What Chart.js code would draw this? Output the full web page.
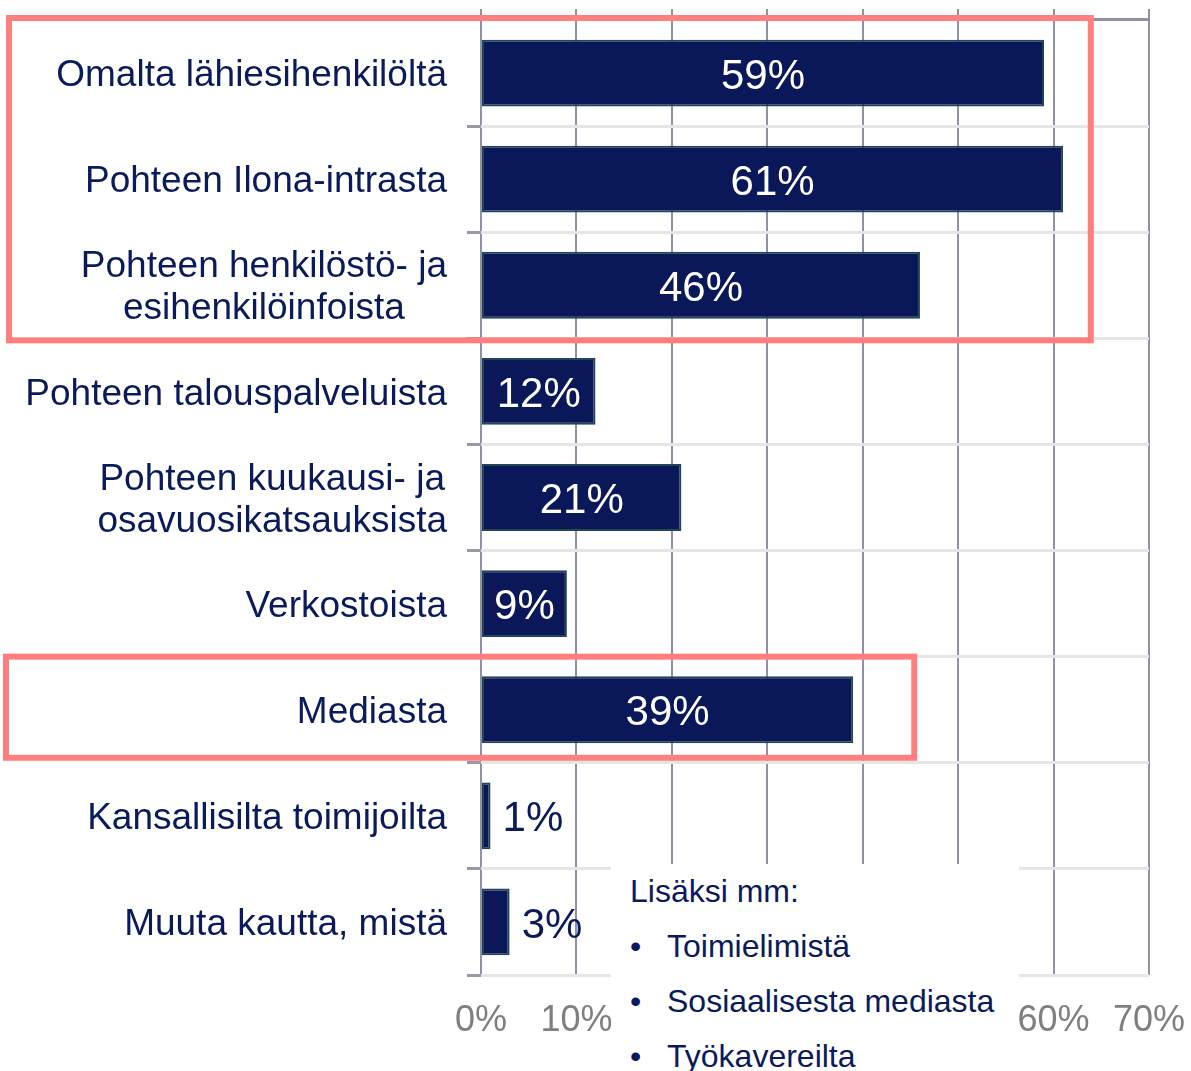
<!DOCTYPE html>
<html>
<head>
<meta charset="utf-8">
<script src="https://cdn.jsdelivr.net/npm/chart.js@4"></script>
<style>
    body { margin: 0; background: #fff; }
    #wrap { position: relative; width: 1191px; height: 1071px; }
    #note {
        position: absolute; left: 611px; top: 864px; width: 408px; height: 207px;
        background: #fff; color: #0b1a5a;
        font-family: "Liberation Sans", Arial, sans-serif; font-size: 32px; line-height: 55px;
    }
    #note div { position: relative; padding-left: 19px; white-space: nowrap; }
    #note div.item { padding-left: 56px; }
    #note .dot { position: absolute; left: 19px; }
</style>
</head>
<body>
<div id="wrap">
    <canvas id="chart"></canvas>
    <div id="note"></div>
</div>
<script>
// chart data
const categories = [
    ["Omalta lähiesihenkilöltä"],
    ["Pohteen Ilona-intrasta"],
    ["Pohteen henkilöstö- ja", "esihenkilöinfoista"],
    ["Pohteen talouspalveluista"],
    ["Pohteen kuukausi- ja", "osavuosikatsauksista"],
    ["Verkostoista"],
    ["Mediasta"],
    ["Kansallisilta toimijoilta"],
    ["Muuta kautta, mistä"]
];
const values = [59, 61, 46, 12, 21, 9, 39, 1, 3];
const tickValues = [0, 10, 20, 30, 40, 50, 60, 70];
const noteTitle = "Lisäksi mm:";
const noteItems = ["Toimielimistä", "Sosiaalisesta mediasta", "Työkavereilta"];

const navy = "#0b1a5a";
const gridPurple = "#9090a6";
const FONT = '"Liberation Sans", Arial, sans-serif';

// red highlight boxes (category ranges)
const highlights = [
    { from: 0, to: 2, left: 9, right: 63.9, padTop: -2, padBottom: 2 },
    { from: 6, to: 6, left: 6, right: 45.4, padTop: 0, padBottom: -5 }
];

// the "Lisäksi mm" box
const note = document.getElementById("note");
note.innerHTML = `<div>${noteTitle}</div>` +
    noteItems.map(t => `<div class="item"><span class="dot">•</span>${t}</div>`).join("");

// category labels: block right-aligned, lines centred on each other
const categoryLabels = {
    id: "categoryLabels",
    afterDraw(chart) {
        const ctx = chart.ctx;
        const y = chart.scales.y;
        const right = chart.chartArea.left - 34;
        ctx.save();
        ctx.font = "37px " + FONT;
        ctx.fillStyle = navy;
        ctx.textAlign = "center";
        ctx.textBaseline = "middle";
        categories.forEach((lines, i) => {
            const w = Math.max(...lines.map(l => ctx.measureText(l).width));
            const cy = y.getPixelForValue(i) + 3;
            const start = cy - (lines.length - 1) * 42 / 2;
            lines.forEach((l, j) => ctx.fillText(l, right - w / 2, start + j * 42));
        });
        ctx.restore();
    }
};

// value labels on bars
const valueLabels = {
    id: "valueLabels",
    afterDatasetsDraw(chart) {
        const ctx = chart.ctx;
        const meta = chart.getDatasetMeta(0);
        ctx.save();
        ctx.font = "42px " + FONT;
        ctx.textBaseline = "middle";
        meta.data.forEach((bar, i) => {
            const v = values[i];
            const text = v + "%";
            if (v >= 5) {
                ctx.fillStyle = "#ffffff";
                ctx.textAlign = "center";
                ctx.fillText(text, (bar.base + bar.x) / 2, bar.y + 4);
            } else {
                ctx.fillStyle = navy;
                ctx.textAlign = "left";
                ctx.fillText(text, bar.x + 12, bar.y + 4);
            }
        });
        ctx.restore();
    }
};

// red rectangles
const highlightBoxes = {
    id: "highlightBoxes",
    afterDraw(chart) {
        const ctx = chart.ctx;
        const x = chart.scales.x, y = chart.scales.y;
        const half = (y.getPixelForValue(1) - y.getPixelForValue(0)) / 2;
        ctx.save();
        ctx.strokeStyle = "#ff7f7f";
        ctx.lineWidth = 6;
        highlights.forEach(h => {
            const top = y.getPixelForValue(h.from) - half + h.padTop;
            const bottom = y.getPixelForValue(h.to) + half + h.padBottom;
            const right = x.getPixelForValue(h.right);
            ctx.strokeRect(h.left, top, right - h.left, bottom - top);
        });
        ctx.restore();
    }
};

new Chart(document.getElementById("chart"), {
    type: "bar",
    data: {
        labels: categories,
        datasets: [{
            data: values,
            backgroundColor: "#0a1758",
            borderColor: "#234656",
            borderWidth: 2,
            borderSkipped: false,
            barPercentage: 0.63,
            categoryPercentage: 1
        }]
    },
    options: {
        indexAxis: "y",
        responsive: true,
        maintainAspectRatio: false,
        animation: false,
        layout: { padding: { top: 9, right: 42, left: 0, bottom: 0 } },
        plugins: { legend: { display: false }, tooltip: { enabled: false } },
        scales: {
            x: {
                min: tickValues[0],
                max: tickValues[tickValues.length - 1],
                ticks: {
                    stepSize: tickValues[1] - tickValues[0],
                    callback: v => v + "%",
                    color: "#7f7f7f",
                    font: { family: FONT, size: 36 },
                    padding: 24,
                    maxRotation: 0
                },
                grid: { color: gridPurple, lineWidth: 2, drawTicks: false },
                border: { display: false },
                afterFit(scale) {
                    scale.height = 96;
                    scale.paddingLeft = 0;
                    scale.paddingRight = 0;
                }
            },
            x2: {
                position: "top",
                min: tickValues[0],
                max: tickValues[tickValues.length - 1],
                ticks: { display: false, stepSize: tickValues[1] - tickValues[0] },
                grid: { color: gridPurple, lineWidth: 2, drawOnChartArea: false, tickLength: 11 },
                border: { display: false },
                afterFit(scale) {
                    scale.height = 11;
                    scale.paddingLeft = 0;
                    scale.paddingRight = 0;
                }
            },
            y: {
                z: -1,
                ticks: { display: false },
                grid: {
                    color: ctx => ctx.index === 0 ? gridPurple : "#e6e6e6",
                    tickColor: "#9a9aa6",
                    lineWidth: 3,
                    tickLength: 14
                },
                border: { display: false },
                afterFit(scale) { scale.width = 481; }
            }
        }
    },
    plugins: [categoryLabels, valueLabels, highlightBoxes]
});
</script>
</body>
</html>
